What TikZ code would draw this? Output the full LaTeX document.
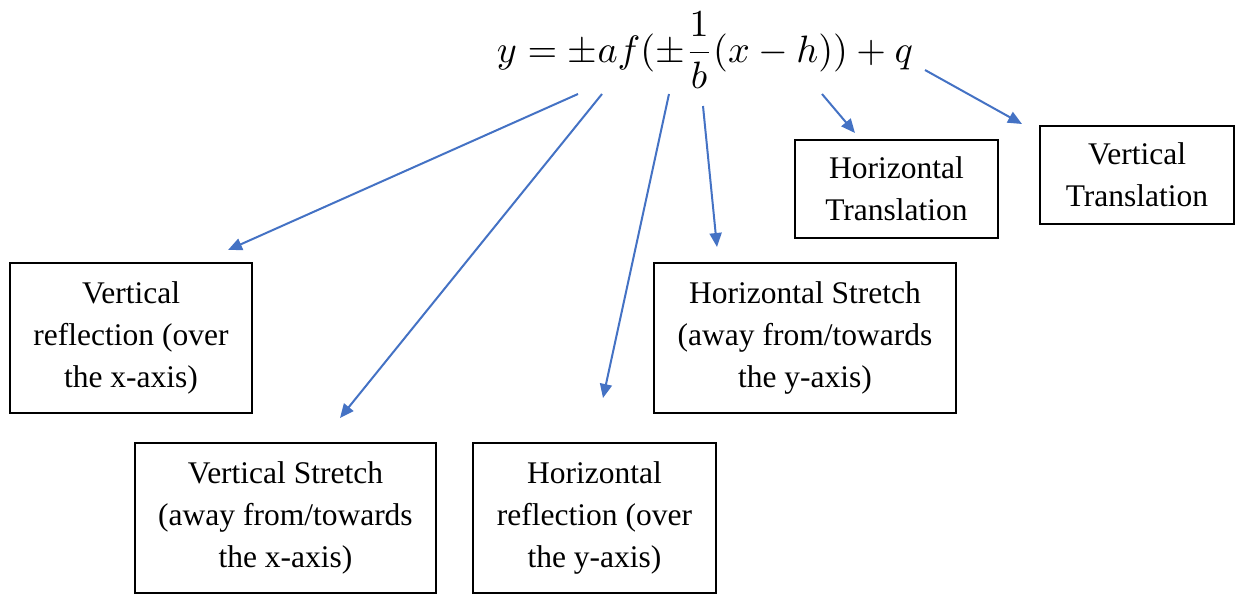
\documentclass[tikz,border=0pt]{standalone}
\usepackage{fontspec}
\setmainfont{Liberation Serif}
\usepackage{graphicx}
\usetikzlibrary{arrows.meta}
\definecolor{arrowblue}{RGB}{68,114,196}
\tikzset{
  box/.style={draw=black, line width=1.9pt, align=center, inner sep=0pt,
    font=\fontsize{31.5}{42}\selectfont},
  conn/.style={draw=arrowblue, line width=2pt,
    -{Triangle[length=14pt,width=12pt]}},
}
\begin{document}
\begin{tikzpicture}[x=1pt,y=-1pt]
\useasboundingbox (0,0) rectangle (1235,594);
\node (eq) at (705,50) {\resizebox{416pt}{!}{$\displaystyle y=\pm af(\pm\frac{1}{b}(x-h))+q$}};
\node[box, minimum width=242, minimum height=150] (vr) at (131,338) {Vertical\\reflection (over\\the x-axis)};
\node[box, minimum width=301, minimum height=150] (vs) at (285.5,518) {Vertical Stretch\\(away from/towards\\the x-axis)};
\node[box, minimum width=243, minimum height=150] (hr) at (594.5,518) {Horizontal\\reflection (over\\the y-axis)};
\node[box, minimum width=302, minimum height=150] (hs) at (805,338) {Horizontal Stretch\\(away from/towards\\the y-axis)};
\node[box, minimum width=203, minimum height=98] (ht) at (896.5,189) {Horizontal\\Translation};
\node[box, minimum width=194, minimum height=98] (vt) at (1137,175) {Vertical\\Translation};
\coordinate (s1) at (578,94);  \coordinate (e1) at (228,250);
\coordinate (s2) at (602,94);  \coordinate (e2) at (340,418);
\coordinate (s3) at (669,94);  \coordinate (e3) at (603,398);
\coordinate (s4) at (703,106); \coordinate (e4) at (717,247);
\coordinate (s5) at (822,94);  \coordinate (e5) at (855,133);
\coordinate (s6) at (925,70);  \coordinate (e6) at (1022,124);
\draw[conn] (s1) -- (e1);
\draw[conn] (s2) -- (e2);
\draw[conn] (s3) -- (e3);
\draw[conn] (s4) -- (e4);
\draw[conn] (s5) -- (e5);
\draw[conn] (s6) -- (e6);
\end{tikzpicture}
\end{document}
